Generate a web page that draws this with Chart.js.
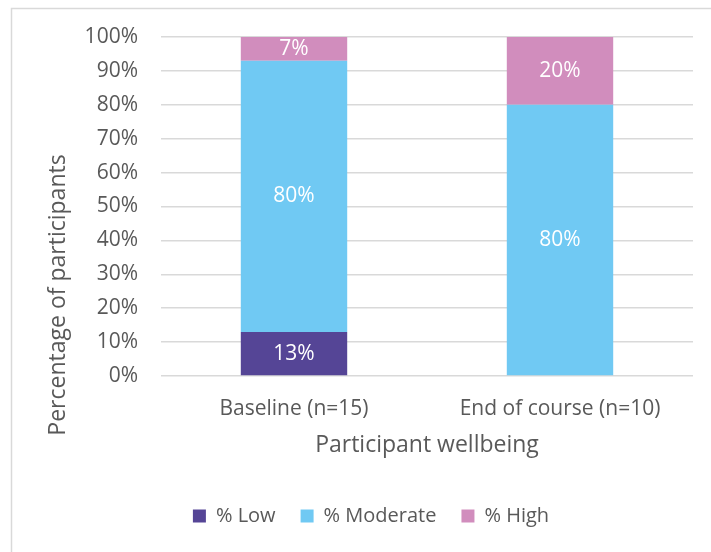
<!DOCTYPE html>
<html>
<head>
<meta charset="utf-8">
<script src="https://cdn.jsdelivr.net/npm/chart.js@4/dist/chart.umd.min.js"></script>
<style>
  html, body { margin: 0; padding: 0; background: #fff; }
  #wrap { width: 711px; height: 552px; }
</style>
</head>
<body>
<div id="wrap"><canvas id="wellbeing_chart" width="711" height="552"></canvas></div>
<script>
const categories = ["Baseline (n=15)", "End of course (n=10)"];
const lowPct = [13, 0];
const moderatePct = [80, 80];
const highPct = [7, 20];
const yTicks = [0, 10, 20, 30, 40, 50, 60, 70, 80, 90, 100];

const FONT = "'Open Sans', 'Liberation Sans', sans-serif";
const TEXT = "#595959";

// light frame round the whole chart, cut off on the right and bottom
const framePlugin = {
    id: "frame",
    beforeDraw(chart) {
        const c = chart.ctx;
        c.save();
        c.strokeStyle = "#d9d9d9";
        c.lineWidth = 1.5;
        c.beginPath();
        c.moveTo(11.5, chart.height);
        c.lineTo(11.5, 8.5);
        c.lineTo(chart.width, 8.5);
        c.stroke();
        c.restore();
    }
};

// axis titles, placed where the report has them
const axisTitlePlugin = {
    id: "axisTitles",
    afterDraw(chart) {
        const c = chart.ctx;
        const area = chart.chartArea;
        c.save();
        c.fillStyle = TEXT;
        c.textAlign = "center";
        c.textBaseline = "middle";
        c.font = "23px " + FONT;
        c.fillText("Participant wellbeing", (area.left + area.right) / 2, 445);
        c.translate(58, 295);
        c.rotate(-Math.PI / 2);
        c.font = "23px " + FONT;
        c.fillText("Percentage of participants", 0, 0);
        c.restore();
    }
};

// percentage labels in the middle of each segment
const segmentLabelPlugin = {
    id: "segmentLabels",
    afterDatasetsDraw(chart) {
        const c = chart.ctx;
        c.save();
        c.fillStyle = "#ffffff";
        c.font = "21px " + FONT;
        c.textAlign = "center";
        c.textBaseline = "middle";
        chart.data.datasets.forEach((ds, i) => {
            const meta = chart.getDatasetMeta(i);
            meta.data.forEach((bar, j) => {
                const v = ds.data[j];
                if (!v) return;
                c.fillText(v + "%", bar.x, (bar.y + bar.base) / 2);
            });
        });
        c.restore();
    }
};

let ctx = document.getElementById("wellbeing_chart");
let wellbeing_chart = new Chart(ctx, {
    type: "bar",
    data: {
        labels: categories,
        datasets: [
            { label: "% Low", data: lowPct, backgroundColor: "#554596" },
            { label: "% Moderate", data: moderatePct, backgroundColor: "#70c9f3" },
            { label: "% High", data: highPct, backgroundColor: "#d18dbd" }
        ]
    },
    options: {
        responsive: false,
        animation: false,
        layout: { padding: { top: 37, right: 18, bottom: 16, left: 49 } },
        datasets: { bar: { categoryPercentage: 1, barPercentage: 0.4 } },
        scales: {
            x: {
                stacked: true,
                grid: { display: false, drawTicks: false },
                border: { display: false },
                ticks: { color: TEXT, font: { family: FONT, size: 21 }, padding: 20, maxRotation: 0 },
                afterFit(scale) { scale.height = 105; }
            },
            y: {
                stacked: true,
                min: 0,
                max: 100,
                afterBuildTicks(scale) { scale.ticks = yTicks.map(v => ({ value: v })); },
                grid: { color: "#d9d9d9", lineWidth: 1.5, drawTicks: false },
                border: { display: false },
                ticks: {
                    color: TEXT,
                    font: { family: FONT, size: 21 },
                    padding: 23,
                    callback: v => v + "%"
                },
                afterFit(scale) { scale.width = 112; }
            }
        },
        plugins: {
            legend: {
                position: "bottom",
                labels: {
                    color: TEXT,
                    font: { family: FONT, size: 20 },
                    boxWidth: 13,
                    boxHeight: 13,
                    padding: 25
                }
            },
            tooltip: { enabled: false }
        }
    },
    plugins: [framePlugin, axisTitlePlugin, segmentLabelPlugin]
});
</script>
</body>
</html>
